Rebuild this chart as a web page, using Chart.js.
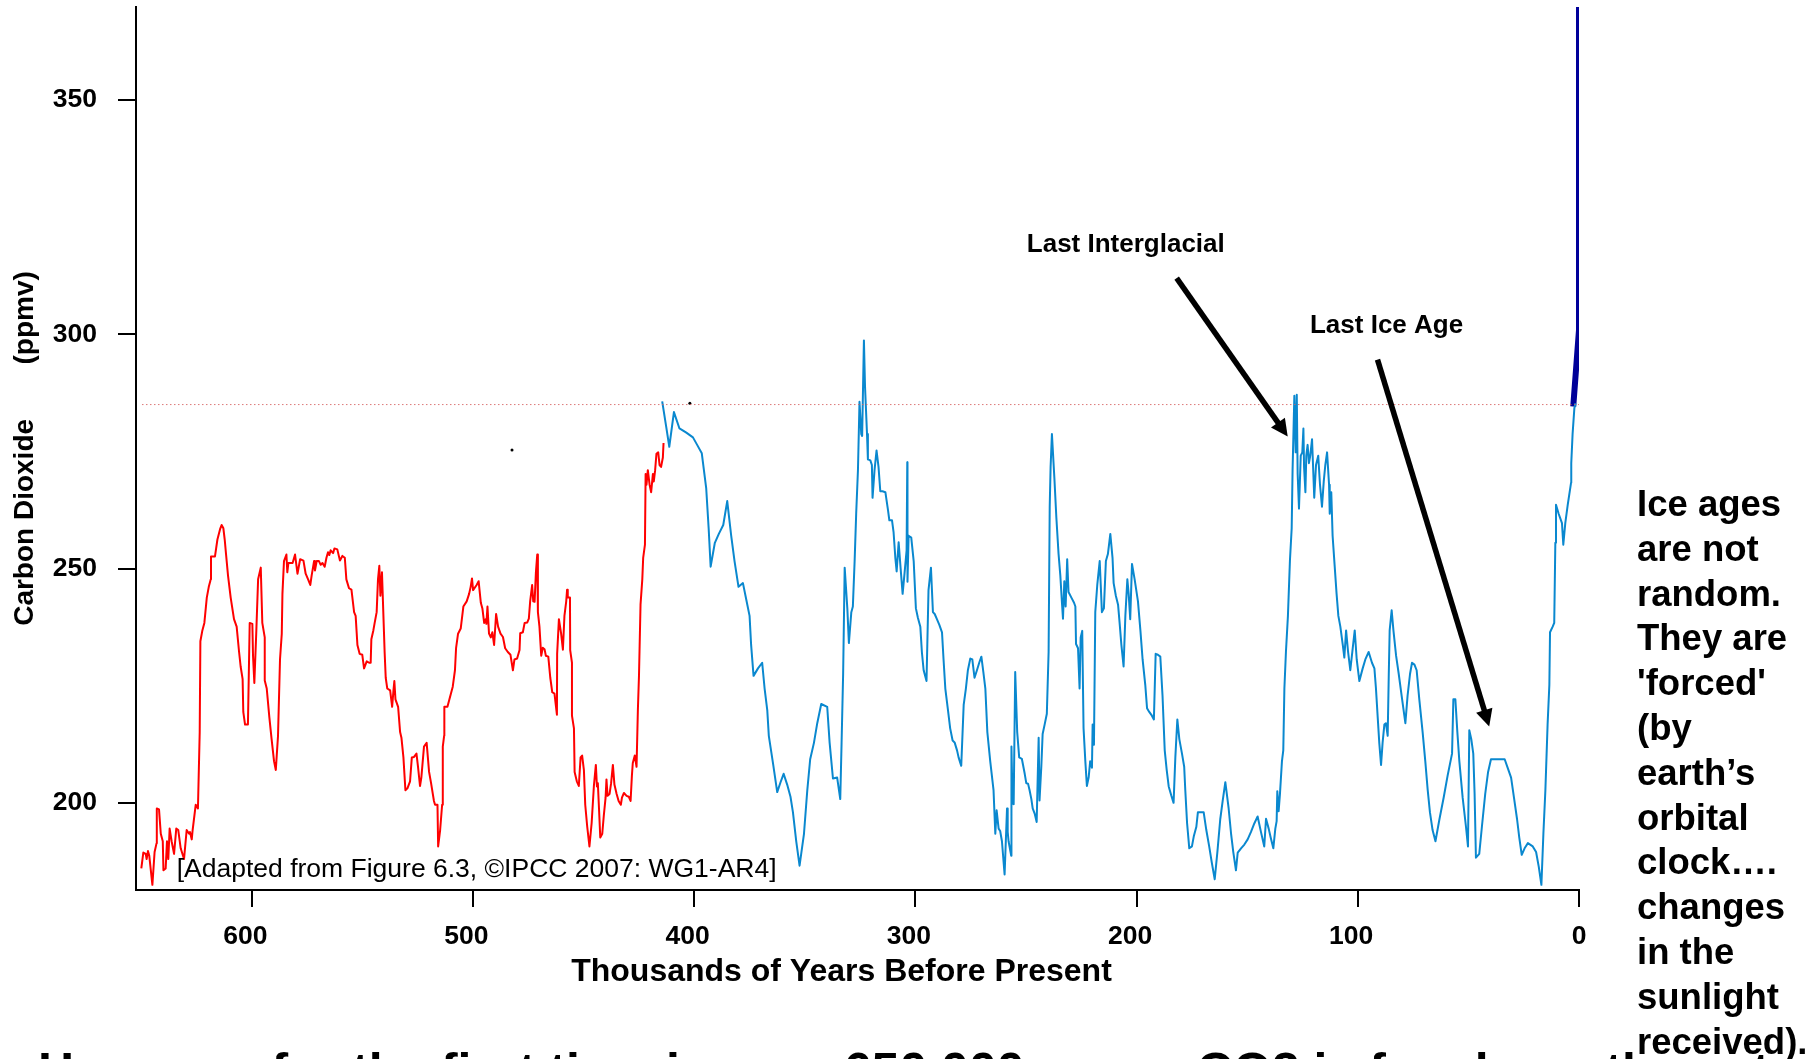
<!DOCTYPE html>
<html lang="en">
<head>
<meta charset="UTF-8">
<title>Carbon Dioxide - 650,000 years</title>
<script src="https://cdn.jsdelivr.net/npm/chart.js"></script>
<style>
  html, body { margin: 0; padding: 0; background: #fff; overflow: hidden; }
  #wrap { position: relative; width: 1819px; height: 1059px; overflow: hidden; font-family: 'Liberation Sans', Arial, sans-serif; color: #000; }
  #co2Chart { position: absolute; left: 0; top: 0; }
  #sideNote { position: absolute; left: 1637px; top: 482px; font-size: 36.5px; line-height: 44.8px; font-weight: bold; white-space: nowrap; }
  #bottomNote { position: absolute; left: 38px; top: 1046px; font-size: 50px; line-height: 50px; font-weight: bold; white-space: nowrap; }
</style>
</head>
<body>
<div id="wrap">
  <canvas id="co2Chart" width="1819" height="1059"></canvas>
  <div id="bottomNote">However, for the first time in over 650,000 years, CO2 is far above the natural range</div>
  <div id="sideNote">Ice ages<br>are not<br>random.<br>They are<br>'forced'<br>(by<br>earth’s<br>orbital<br>clock….<br>changes<br>in the<br>sunlight<br>received).</div>
</div>
<script>
// EPICA Dome C (red), thousands of years before present / ppmv
const redAge = [
  650.0,649.1,648.0,647.6,647.0,646.4,645.0,644.0,643.1,643.0,
  642.0,641.2,640.3,640.0,639.0,638.4,637.8,637.2,636.3,635.2,
  634.2,633.3,632.2,630.7,629.5,628.4,628.0,627.2,626.8,625.4,
  624.4,623.6,623.3,622.4,621.5,620.4,619.5,618.6,618.5,616.7,
  615.6,614.4,613.7,612.9,612.3,611.7,610.8,609.6,608.1,606.9,
  605.8,605.1,604.2,603.9,603.1,601.8,601.0,599.8,599.5,598.9,
  598.0,597.2,596.0,595.3,594.2,594.2,593.3,592.1,591.1,590.0,
  589.2,588.2,587.3,586.5,586.2,585.5,584.4,584.0,583.5,581.6,
  580.5,579.4,578.2,576.7,575.7,574.6,573.6,573.0,571.9,571.5,
  570.7,569.7,568.9,568.1,567.1,566.3,565.6,565.0,564.4,563.3,
  562.7,561.4,560.2,559.1,558.0,557.3,556.1,555.0,553.8,553.1,
  552.3,551.3,550.1,549.3,548.1,547.0,546.3,546.0,545.1,544.5,
  543.6,543.0,542.4,541.9,541.2,540.6,540.0,539.5,538.8,537.5,
  536.6,536.0,535.6,535.1,533.9,533.0,532.4,531.5,530.6,529.7,
  528.5,527.7,526.7,525.6,524.9,524.0,523.4,522.2,521.0,519.9,
  519.0,517.7,517.2,516.1,515.8,514.9,514.0,513.7,513.1,513.0,
  511.6,510.7,509.2,508.2,507.7,506.8,505.6,504.4,502.9,501.8,
  501.1,500.5,500.0,498.4,497.5,496.5,495.8,495.0,494.3,494.0,
  493.5,492.8,492.0,491.3,490.5,489.6,488.7,487.6,486.5,485.5,
  484.3,483.1,482.0,481.3,480.1,479.0,478.7,477.5,476.7,475.5,
  474.8,474.2,473.3,472.8,472.2,471.6,471.0,470.7,470.0,469.2,
  468.5,467.7,467.1,466.0,465.1,464.2,463.2,462.1,462.0,461.2,
  460.2,459.4,458.7,457.9,457.5,457.2,456.2,456.1,455.3,455.3,
  454.4,454.1,453.1,452.2,451.4,450.7,449.9,449.3,448.4,447.4,
  446.4,445.4,444.5,444.0,443.6,443.0,442.5,441.6,440.9,440.1,
  439.7,439.2,438.3,437.6,436.8,436.1,435.1,434.2,433.2,432.7,
  431.8,430.6,429.6,428.8,428.2,427.8,426.9,426.1,425.5,425.0,
  424.3,423.5,423.1,422.3,422.0,421.6,421.0,420.2,419.5,418.7,
  418.3,417.7,417.1,416.3,415.7,415.0,414.2,413.9
];
const redCO2 = [
  186.0,189.4,189.1,188.0,189.7,188.7,182.5,189.5,191.4,198.8,
  198.6,193.4,191.8,185.6,186.0,191.8,188.0,194.5,191.8,189.1,
  194.5,194.2,190.3,188.0,194.2,193.4,193.8,192.2,194.2,199.6,
  198.8,215.1,234.5,236.8,238.4,243.8,246.1,247.7,252.6,252.6,
  256.2,258.4,259.3,258.6,256.2,253.1,248.5,243.8,239.2,237.6,
  232.2,229.1,226.4,219.4,216.7,216.7,238.4,238.2,231.4,225.6,
  236.8,247.7,250.2,238.4,235.3,226.1,224.4,218.2,213.6,208.9,
  207.0,214.3,230.6,236.1,244.6,251.6,253.0,249.2,251.2,251.2,
  253.0,248.9,252.0,251.7,248.9,247.7,246.5,248.5,251.6,249.6,
  251.6,251.6,250.8,251.2,250.4,252.3,253.5,252.9,253.9,253.3,
  254.3,254.1,251.7,252.7,252.3,247.7,245.8,245.5,240.7,239.9,
  233.7,231.8,231.6,228.7,230.2,229.9,229.9,234.9,236.8,238.4,
  240.7,247.7,250.6,244.2,249.2,240.7,232.2,226.7,224.4,224.0,
  220.5,224.0,226.0,222.1,220.5,215.1,213.9,209.7,202.7,203.1,
  204.6,209.7,209.8,210.5,207.7,203.6,205.4,212.0,212.8,206.6,
  204.2,200.4,199.6,199.6,190.7,194.2,199.6,212.0,214.3,220.5,
  220.5,222.1,224.8,228.3,233.0,236.1,237.2,241.9,243.0,244.6,
  246.1,247.9,245.4,246.5,247.3,242.7,241.5,238.4,239.2,238.2,
  241.9,236.1,235.3,236.4,233.7,240.3,237.6,236.1,235.4,233.0,
  232.2,231.6,228.3,230.6,230.8,232.6,236.2,236.4,238.4,238.5,
  239.3,243.0,246.5,243.0,242.9,249.2,253.0,240.7,237.6,231.4,
  233.1,232.8,231.4,231.2,226.7,223.6,223.3,218.8,231.8,239.2,
  236.1,232.7,239.9,243.0,245.5,243.8,243.8,232.6,229.9,218.6,
  215.9,206.6,204.6,203.6,209.7,210.1,207.0,199.6,194.9,190.7,
  195.7,203.5,208.1,203.5,204.2,198.0,192.6,193.4,197.3,201.1,
  205.0,201.5,201.9,204.2,208.1,203.9,201.9,200.4,199.6,201.1,
  202.1,201.5,201.3,200.4,205.8,208.5,210.1,207.7,219.8,227.1,
  242.3,247.7,252.3,255.1,270.2,267.9,271.0,267.9,266.3,270.2,
  268.6,271.0,274.5,274.8,272.1,271.7,273.7,276.8
];

// Vostok and later records (light blue)
const blueAge = [
  414.5,412.7,411.3,409.2,406.7,403.6,400.6,398.7,396.6,394.6,
  393.5,392.6,390.7,388.9,386.9,385.1,383.3,381.8,380.0,378.0,
  376.5,375.0,374.3,373.2,371.2,369.3,368.2,367.0,366.3,364.3,
  362.5,361.0,359.6,358.0,356.5,355.4,353.9,352.4,350.4,348.9,
  347.6,345.9,344.4,342.6,339.9,338.8,337.3,335.4,334.0,333.4,
  332.7,332.0,330.8,330.1,329.0,328.3,327.5,326.8,326.0,325.3,
  324.5,324.1,323.3,322.8,322.4,321.9,321.5,320.4,319.7,319.4,
  318.5,317.6,316.7,315.9,314.9,313.6,312.4,311.8,310.6,309.9,
  309.1,308.5,307.6,306.7,305.8,304.9,304.0,303.7,303.6,303.1,
  301.9,300.8,299.8,298.9,297.8,297.1,296.3,295.0,294.1,293.0,
  292.1,291.3,290.3,289.2,288.0,287.3,286.5,285.3,284.3,283.2,
  282.3,281.2,280.5,279.3,278.2,277.2,276.3,275.2,274.3,273.3,
  272.2,271.1,270.2,269.3,268.4,267.5,266.2,264.7,263.9,263.3,
  262.4,261.7,260.9,259.7,258.6,258.3,257.9,256.7,256.6,256.1,
  255.6,254.9,254.0,253.1,251.9,250.6,249.9,249.1,248.4,247.6,
  247.0,246.1,245.2,244.3,243.9,243.1,242.5,241.6,240.6,239.8,
  239.3,238.9,238.3,237.2,236.3,235.3,234.5,233.8,233.3,232.7,
  232.1,231.4,230.8,229.5,228.3,227.7,227.4,226.5,225.8,225.3,
  224.6,224.0,223.2,222.5,221.7,221.0,220.2,219.9,219.3,218.7,
  217.8,216.7,215.7,214.8,213.9,213.0,211.9,210.9,210.4,209.4,
  208.4,207.7,206.9,205.9,205.1,204.2,203.6,202.9,202.1,200.9,
  199.4,198.3,197.3,196.1,195.3,194.3,193.1,192.2,191.4,190.4,
  189.3,188.3,187.3,186.4,185.5,184.3,183.3,182.5,181.6,180.7,
  179.5,178.5,178.0,177.2,176.2,175.0,174.1,173.0,172.3,170.8,
  169.7,168.5,167.2,166.0,164.7,163.5,162.2,161.1,159.9,158.4,
  157.3,156.3,155.1,154.3,152.8,151.3,149.8,148.3,146.8,145.3,
  143.8,142.3,141.5,140.3,139.4,138.2,137.3,136.7,136.4,135.8,
  135.2,134.3,133.7,133.2,132.5,131.6,130.7,129.9,129.5,128.7,
  128.1,127.6,127.2,126.6,125.8,125.1,124.6,124.3,123.7,123.3,
  122.7,122.1,121.5,120.7,120.1,119.7,118.9,117.9,117.1,116.2,
  115.4,114.7,113.9,113.0,112.7,112.0,111.4,110.5,109.6,108.8,
  107.9,106.8,106.1,105.3,104.4,103.4,102.3,101.4,100.5,99.3,
  97.8,96.6,95.1,93.6,92.5,91.8,91.0,90.3,89.5,88.8,
  88.0,87.3,86.5,86.0,85.6,84.7,83.9,82.7,81.5,80.2,
  78.5,77.5,76.4,75.5,74.4,73.4,72.2,70.7,69.5,68.4,
  67.4,66.2,64.9,63.1,61.2,59.4,57.4,56.8,55.9,55.0,
  54.1,52.6,51.1,50.2,49.6,48.7,47.8,47.2,46.6,45.1,
  43.9,42.4,41.1,39.8,36.8,33.6,32.2,30.7,29.4,28.0,
  27.0,25.9,24.6,23.1,20.9,19.4,18.2,17.0,16.1,15.2,
  14.2,13.4,13.1,11.9,11.2,10.7,10.4,9.2,7.7,7.1,
  6.2,5.1,3.6,3.5,2.9,2.1,1.6
];
const blueCO2 = [
  285.7,280.3,276.0,283.4,279.9,279.0,278.0,276.4,274.6,267.1,
  258.6,250.4,255.5,257.4,259.3,264.4,257.0,251.6,246.1,246.9,
  243.4,239.9,233.7,227.1,228.7,229.9,224.4,219.8,214.3,208.1,
  202.3,204.4,206.2,203.9,201.3,198.0,191.8,186.6,193.4,202.7,
  209.3,212.8,217.0,221.1,220.5,212.8,205.2,205.4,200.8,212.8,
  227.5,250.2,241.5,234.1,240.7,241.9,251.6,261.7,271.0,285.6,
  278.7,278.3,298.7,288.8,288.8,278.7,273.3,273.1,272.1,265.1,
  271.0,275.2,271.7,266.5,266.5,266.3,262.4,260.3,260.3,257.8,
  252.3,249.4,255.6,250.0,244.6,249.2,253.9,272.7,247.2,257.0,
  256.6,251.6,241.5,239.5,237.6,232.2,228.3,226.0,245.4,250.2,
  240.7,240.3,239.2,238.0,236.4,230.6,224.4,219.8,215.9,213.3,
  212.9,211.2,209.7,207.9,220.9,224.4,228.3,230.8,230.6,226.7,
  228.3,230.0,231.2,227.9,224.4,215.1,208.9,202.7,193.4,198.4,
  194.5,194.0,191.8,184.7,198.8,193.8,191.8,188.7,212.0,200.0,
  199.7,227.9,215.1,209.7,209.4,206.2,204.2,204.1,202.7,200.8,
  198.8,197.7,195.9,213.9,200.5,207.7,214.7,216.7,219.0,232.2,
  263.2,271.7,278.7,269.4,260.9,253.1,248.5,243.0,239.3,247.3,
  241.9,252.0,245.0,243.8,242.7,241.9,233.9,233.0,224.4,235.3,
  236.7,215.9,208.9,203.6,205.4,208.9,207.5,216.7,212.4,240.7,
  246.5,251.6,240.7,241.5,251.6,253.1,257.4,252.3,246.9,244.2,
  242.3,238.4,233.7,229.1,239.9,247.7,244.6,239.2,251.0,247.7,
  243.0,236.8,230.6,225.2,220.2,219.4,218.6,217.8,231.8,231.6,
  231.2,222.9,211.2,207.0,203.5,201.5,200.0,209.7,217.8,213.6,
  210.5,207.7,202.7,195.7,190.3,190.7,193.0,194.9,198.0,198.0,
  198.0,194.2,190.7,187.2,183.7,189.5,196.5,200.4,204.4,198.8,
  193.4,189.5,185.6,189.4,190.3,191.1,192.2,193.8,195.6,197.1,
  193.8,190.7,196.6,194.5,192.6,190.3,194.5,196.1,202.5,198.2,
  201.9,208.9,211.2,224.4,232.2,239.9,251.6,258.6,271.0,286.9,
  274.8,287.1,270.2,262.8,274.1,274.8,279.9,271.7,266.3,274.1,
  276.4,272.5,274.1,277.6,270.2,265.1,272.1,274.1,267.9,263.2,
  268.6,272.1,274.8,267.9,261.7,266.3,257.0,250.8,244.6,239.9,
  237.6,233.7,231.0,236.8,232.2,228.3,233.0,236.8,230.6,226.0,
  228.7,230.6,232.2,229.9,228.7,224.4,218.2,212.8,208.1,212.8,
  216.7,217.0,214.3,227.5,236.8,241.1,236.8,231.4,227.5,222.9,
  217.0,222.9,227.5,229.9,229.5,228.3,222.1,215.1,208.9,202.7,
  198.0,194.2,191.8,196.5,201.1,205.8,210.5,222.1,222.1,215.1,
  208.9,201.1,194.9,190.7,215.5,213.6,210.5,201.9,188.3,189.1,
  194.9,201.9,206.6,209.3,209.3,209.3,207.4,205.4,201.1,196.5,
  192.6,188.9,190.3,191.4,190.7,189.5,186.4,182.5,193.4,202.7,
  216.7,225.2,236.4,237.6,238.4,255.5,263.6,261.7,259.7,255.1,
  259.7,263.6,268.3,272.5,278.7,284.2,285.3
];

// modern rise (dark blue, thick)
const modernAge = [2.6, 0.0, 0.0];
const modernCO2 = [284.6, 300.9, 371.0];

// pre-industrial reference (dotted)
const refAge = [649.7, 0];
const refCO2 = [285, 285];

// two stray marks in the original figure
const markAge = [482.4, 402.0];
const markCO2 = [275.3, 285.3];

const xTicks = [600, 500, 400, 300, 200, 100, 0];
const yTicks = [200, 250, 300, 350];

// annotations, in data units (kyr BP, ppmv)
const notes = [
  { text: 'Last Interglacial', at: [204.9, 317.6], from: [181.9, 312.0], to: [131.7, 278.2] },
  { text: 'Last Ice Age', at: [87.0, 300.3], from: [91.1, 294.6], to: [40.6, 216.3] }
];
const caption = { text: '[Adapted from Figure 6.3, \u00a9IPCC 2007: WG1-AR4]', at: [634.0, 184.2] };

function pairs(ages, vals) {
  return ages.map((a, i) => ({ x: a, y: vals[i] }));
}

function drawArrow(ctx, x1, y1, x2, y2) {
  const ang = Math.atan2(y2 - y1, x2 - x1);
  const head = 17, half = 8.5;
  const bx = x2 - head * Math.cos(ang), by = y2 - head * Math.sin(ang);
  ctx.lineWidth = 5.5;
  ctx.lineCap = 'butt';
  ctx.beginPath();
  ctx.moveTo(x1, y1);
  ctx.lineTo(bx + Math.cos(ang), by + Math.sin(ang));
  ctx.stroke();
  ctx.beginPath();
  ctx.moveTo(x2, y2);
  ctx.lineTo(bx + half * Math.sin(ang), by - half * Math.cos(ang));
  ctx.lineTo(bx - half * Math.sin(ang), by + half * Math.cos(ang));
  ctx.closePath();
  ctx.fill();
}

const fontFamily = "'Liberation Sans', Arial, sans-serif";

const notesPlugin = {
  id: 'notes',
  afterDatasetsDraw(chart) {
    const { ctx } = chart;
    const x = chart.scales.x, y = chart.scales.y;
    ctx.save();
    ctx.fillStyle = '#000';
    ctx.strokeStyle = '#000';
    ctx.textBaseline = 'alphabetic';
    ctx.font = 'bold 26px ' + fontFamily;
    ctx.textAlign = 'center';
    notes.forEach(n => {
      ctx.fillText(n.text, x.getPixelForValue(n.at[0]), y.getPixelForValue(n.at[1]));
      drawArrow(ctx,
        x.getPixelForValue(n.from[0]), y.getPixelForValue(n.from[1]),
        x.getPixelForValue(n.to[0]), y.getPixelForValue(n.to[1]));
    });
    ctx.font = '26.5px ' + fontFamily;
    ctx.textAlign = 'left';
    ctx.fillText(caption.text, x.getPixelForValue(caption.at[0]), y.getPixelForValue(caption.at[1]));
    ctx.restore();
  }
};

Chart.defaults.font.family = fontFamily;
Chart.defaults.color = '#000';

const ctx = document.getElementById('co2Chart').getContext('2d');
new Chart(ctx, {
  type: 'line',
  data: {
    datasets: [
      { label: 'Pre-industrial', data: pairs(refAge, refCO2), borderColor: 'rgba(214,96,96,0.85)', borderWidth: 1, borderDash: [1.5, 2.5] },
      { label: 'EPICA Dome C', data: pairs(redAge, redCO2), borderColor: '#ff0000', borderWidth: 2 },
      { label: 'Vostok', data: pairs(blueAge, blueCO2), borderColor: '#0a88cf', borderWidth: 2 },
      { label: 'Modern', data: pairs(modernAge, modernCO2), borderColor: '#000099', borderWidth: 6, borderCapStyle: 'butt' },
      { label: 'Marks', data: pairs(markAge, markCO2), showLine: false, pointRadius: 1.5, pointBackgroundColor: '#000', pointBorderWidth: 0 }
    ]
  },
  options: {
    responsive: false,
    animation: false,
    events: [],
    layout: { padding: { left: 0, top: 7, right: 240, bottom: 0 } },
    elements: {
      point: { radius: 0 },
      line: { tension: 0, borderJoinStyle: 'round' }
    },
    plugins: {
      legend: { display: false },
      tooltip: { enabled: false }
    },
    scales: {
      x: {
        type: 'linear',
        reverse: true,
        min: 0,
        max: 652.4,
        afterBuildTicks: s => { s.ticks = xTicks.map(v => ({ value: v })); },
        afterFit: s => { s.paddingLeft = 0; s.paddingRight = 0; },
        grid: { drawOnChartArea: false, drawTicks: true, tickLength: 17, color: '#000', lineWidth: 2 },
        border: { display: true, color: '#000', width: 2 },
        ticks: {
          autoSkip: false, maxRotation: 0, padding: 14.1,
          font: { size: 26.5, weight: 'bold' },
          callback: v => (v === 0 ? '0' : v + '\u2002')
        },
        title: {
          display: true,
          text: 'Thousands of Years Before Present\u2002\u2002',
          font: { size: 32, weight: 'bold' },
          // chart.js reserves tick padding twice, so the top padding is negative
          padding: { top: -14.2, bottom: 67.8 }
        }
      },
      y: {
        type: 'linear',
        min: 181.4,
        max: 369.85,
        afterBuildTicks: s => { s.ticks = yTicks.map(v => ({ value: v })); },
        afterFit: s => { s.paddingTop = 0; s.paddingBottom = 0; },
        grid: { drawOnChartArea: false, drawTicks: true, tickLength: 18, color: '#000', lineWidth: 2 },
        border: { display: true, color: '#000', width: 2 },
        ticks: {
          autoSkip: false, padding: 21,
          font: { size: 26.5, weight: 'bold' }
        },
        title: {
          display: true,
          text: 'Carbon Dioxide\u00a0\u00a0\u00a0\u00a0\u00a0\u00a0\u00a0(ppmv)',
          font: { size: 28, weight: 'bold' },
          padding: { top: 8.2, bottom: -10 }
        }
      }
    }
  },
  plugins: [notesPlugin]
});
</script>
</body>
</html>
